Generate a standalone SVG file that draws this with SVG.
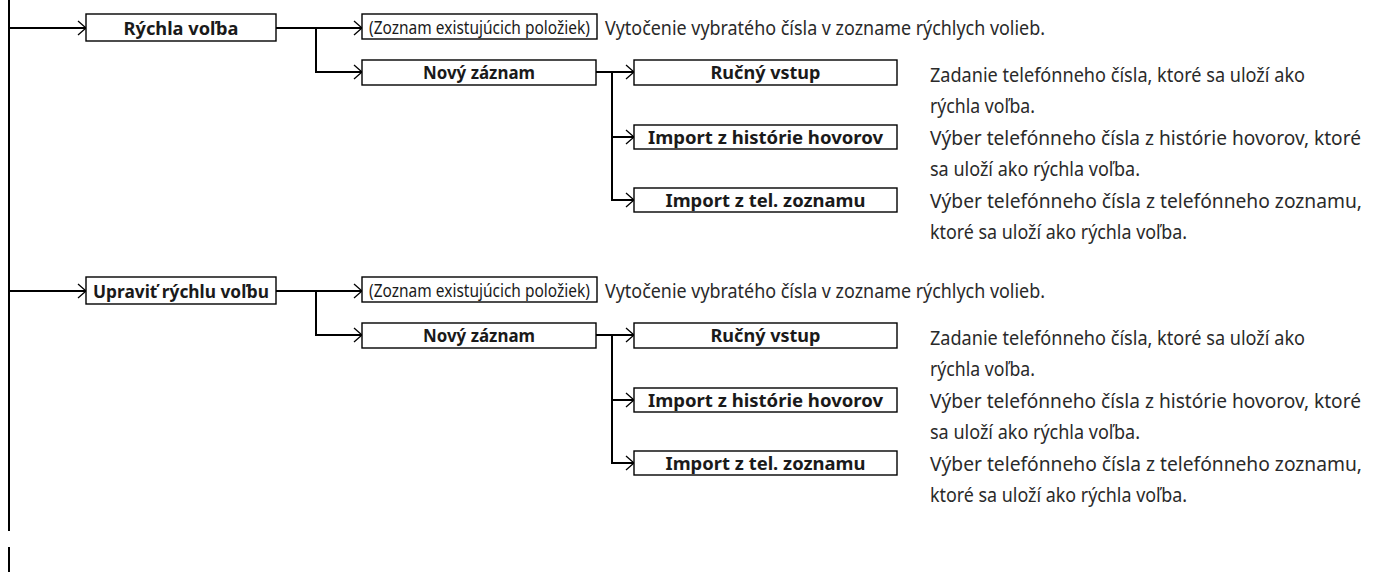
<svg xmlns="http://www.w3.org/2000/svg" width="1388" height="572" viewBox="0 0 1388 572">
<style>
.bx{fill:#fff;stroke:#000;stroke-width:1.4}
.ln{fill:none;stroke:#000;stroke-width:2}
.lb{font-family:"Noto Sans","Open Sans",sans-serif;font-weight:bold;font-size:18.5px;fill:#1a1a1a;text-anchor:middle}
.lr{font-family:"Noto Sans","Open Sans",sans-serif;font-size:18.5px;fill:#1a1a1a;text-anchor:middle}
.ds{font-family:"Noto Sans","Open Sans",sans-serif;font-size:20px;fill:#2a2a2a}
</style>
<defs>
<marker id="ar" markerUnits="userSpaceOnUse" markerWidth="12" markerHeight="18" refX="9" refY="8" orient="auto" overflow="visible">
<path d="M1,1 L9,8 L1,15" fill="none" stroke="#000" stroke-width="1.3"/>
</marker>
</defs>
<g id="connectors">
<path class="ln" d="M9,0 V531 M9,547 V572"/>
<path class="ln" d="M9,28 H86" marker-end="url(#ar)"/>
<path class="ln" d="M276,28 H362" marker-end="url(#ar)"/>
<path class="ln" d="M316,28 V72 H362" marker-end="url(#ar)"/>
<path class="ln" d="M596,72 H634" marker-end="url(#ar)"/>
<path class="ln" d="M612,72 V137 H634" marker-end="url(#ar)"/>
<path class="ln" d="M612,137 V200 H634" marker-end="url(#ar)"/>
<path class="ln" d="M9,291 H86" marker-end="url(#ar)"/>
<path class="ln" d="M276,291 H362" marker-end="url(#ar)"/>
<path class="ln" d="M316,291 V335 H362" marker-end="url(#ar)"/>
<path class="ln" d="M596,335 H634" marker-end="url(#ar)"/>
<path class="ln" d="M612,335 V400 H634" marker-end="url(#ar)"/>
<path class="ln" d="M612,400 V463 H634" marker-end="url(#ar)"/>
</g>
<g id="n1"><rect class="bx" x="86" y="14" width="190" height="27"/><text class="lb" x="181" y="34.5" textLength="115" lengthAdjust="spacingAndGlyphs">Rýchla voľba</text></g>
<g id="n2"><rect class="bx" x="362" y="14" width="235" height="25"/><text class="lr" transform="translate(479.5,33.5) scale(0.84,1)" x="0" y="0" textLength="263" lengthAdjust="spacingAndGlyphs">(Zoznam existujúcich položiek)</text><text class="ds" x="605" y="34.5" textLength="440" lengthAdjust="spacingAndGlyphs">Vytočenie vybratého čísla v zozname rýchlych volieb.</text></g>
<g id="n3"><rect class="bx" x="362" y="60" width="234" height="25"/><text class="lb" x="479" y="79" textLength="112" lengthAdjust="spacingAndGlyphs">Nový záznam</text></g>
<g id="n4"><rect class="bx" x="634" y="60" width="263" height="25"/><text class="lb" x="765.5" y="79" textLength="110" lengthAdjust="spacingAndGlyphs">Ručný vstup</text><text class="ds" x="930" y="82" textLength="375" lengthAdjust="spacingAndGlyphs">Zadanie telefónneho čísla, ktoré sa uloží ako</text><text class="ds" x="930" y="113" textLength="105" lengthAdjust="spacingAndGlyphs">rýchla voľba.</text></g>
<g id="n5"><rect class="bx" x="634" y="125" width="263" height="24"/><text class="lb" x="765.5" y="143.5" textLength="235" lengthAdjust="spacingAndGlyphs">Import z histórie hovorov</text><text class="ds" x="930" y="145" textLength="431" lengthAdjust="spacingAndGlyphs">Výber telefónneho čísla z histórie hovorov, ktoré</text><text class="ds" x="930" y="176" textLength="210" lengthAdjust="spacingAndGlyphs">sa uloží ako rýchla voľba.</text></g>
<g id="n6"><rect class="bx" x="634" y="188" width="263" height="24"/><text class="lb" x="765.5" y="206.5" textLength="200" lengthAdjust="spacingAndGlyphs">Import z tel. zoznamu</text><text class="ds" x="930" y="208" textLength="432" lengthAdjust="spacingAndGlyphs">Výber telefónneho čísla z telefónneho zoznamu,</text><text class="ds" x="930" y="239" textLength="257" lengthAdjust="spacingAndGlyphs">ktoré sa uloží ako rýchla voľba.</text></g>
<g id="n7"><rect class="bx" x="86" y="277" width="190" height="27"/><text class="lb" x="181" y="297.5" textLength="176" lengthAdjust="spacingAndGlyphs">Upraviť rýchlu voľbu</text></g>
<g id="n8"><rect class="bx" x="362" y="277" width="235" height="25"/><text class="lr" transform="translate(479.5,296.5) scale(0.84,1)" x="0" y="0" textLength="263" lengthAdjust="spacingAndGlyphs">(Zoznam existujúcich položiek)</text><text class="ds" x="605" y="297.5" textLength="440" lengthAdjust="spacingAndGlyphs">Vytočenie vybratého čísla v zozname rýchlych volieb.</text></g>
<g id="n9"><rect class="bx" x="362" y="323" width="234" height="25"/><text class="lb" x="479" y="342" textLength="112" lengthAdjust="spacingAndGlyphs">Nový záznam</text></g>
<g id="n10"><rect class="bx" x="634" y="323" width="263" height="25"/><text class="lb" x="765.5" y="342" textLength="110" lengthAdjust="spacingAndGlyphs">Ručný vstup</text><text class="ds" x="930" y="345" textLength="375" lengthAdjust="spacingAndGlyphs">Zadanie telefónneho čísla, ktoré sa uloží ako</text><text class="ds" x="930" y="376" textLength="105" lengthAdjust="spacingAndGlyphs">rýchla voľba.</text></g>
<g id="n11"><rect class="bx" x="634" y="388" width="263" height="24"/><text class="lb" x="765.5" y="406.5" textLength="235" lengthAdjust="spacingAndGlyphs">Import z histórie hovorov</text><text class="ds" x="930" y="408" textLength="431" lengthAdjust="spacingAndGlyphs">Výber telefónneho čísla z histórie hovorov, ktoré</text><text class="ds" x="930" y="439" textLength="210" lengthAdjust="spacingAndGlyphs">sa uloží ako rýchla voľba.</text></g>
<g id="n12"><rect class="bx" x="634" y="451" width="263" height="24"/><text class="lb" x="765.5" y="469.5" textLength="200" lengthAdjust="spacingAndGlyphs">Import z tel. zoznamu</text><text class="ds" x="930" y="471" textLength="432" lengthAdjust="spacingAndGlyphs">Výber telefónneho čísla z telefónneho zoznamu,</text><text class="ds" x="930" y="502" textLength="257" lengthAdjust="spacingAndGlyphs">ktoré sa uloží ako rýchla voľba.</text></g>
</svg>
